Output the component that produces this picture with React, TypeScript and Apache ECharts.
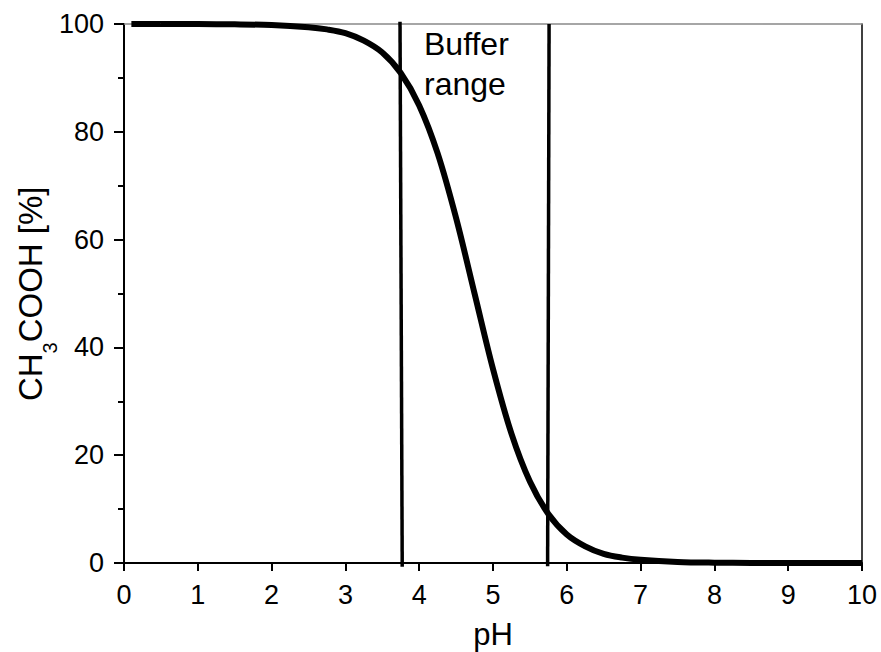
import React, { useEffect, useRef } from 'react';
import * as echarts from 'echarts';

// pH values and CH3COOH fraction (%)
const phValues = [0.1, 0.5, 1, 1.5, 2, 2.5, 2.75, 3, 3.25, 3.5, 3.75, 4, 4.25, 4.5, 4.75, 5, 5.25, 5.5, 5.75, 6, 6.25, 6.5, 6.75, 7, 7.5, 8, 8.5, 9, 10];
const acidPercent = [100, 99.99, 99.98, 99.94, 99.8, 99.4, 99.0, 98.3, 96.9, 94.7, 90.9, 84.9, 76.0, 64.0, 50.0, 36.0, 24.0, 15.1, 9.1, 5.3, 3.1, 1.7, 1.0, 0.6, 0.2, 0.06, 0.02, 0.01, 0];

// Buffer range boundary lines (pH, %)
const bufferLeft = [[3.74, 100.4], [3.77, -0.7]];
const bufferRight = [[5.76, 100], [5.74, -0.6]];

const xTicks = { min: 0, max: 10, interval: 1 };
const yTicks = { min: 0, max: 100, interval: 20 };

const annotation = 'Buffer\nrange';
const xName = 'pH';
const yName = '{a|CH}{b|3}{a|COOH [%]}{s| }';

const FONT = '"Liberation Sans", Arial, Helvetica, sans-serif';

export default function App() {
  const ref = useRef<HTMLDivElement>(null);
  useEffect(() => {
    document.body.style.margin = '0';
    const chart = echarts.init(ref.current!, null, { renderer: 'svg' });
    const curve = phValues.map((p, i) => [p, acidPercent[i]]);
    chart.setOption({
      animation: false,
      backgroundColor: '#fff',
      textStyle: { fontFamily: FONT, color: '#000' },
      grid: { left: 124, top: 24, right: 19, bottom: 89, containLabel: false, outerBoundsMode: 'none' },
      xAxis: [
        {
          type: 'value', ...xTicks, position: 'bottom',
          axisLine: { onZero: false, lineStyle: { color: '#000', width: 2 } },
          axisTick: { inside: false, length: 8, lineStyle: { color: '#000', width: 2 } },
          axisLabel: { color: '#000', fontSize: 27, fontFamily: FONT, margin: 18 },
          splitLine: { show: false },
          name: xName, nameLocation: 'middle', nameGap: 56, nameMoveOverlap: false,
          nameTextStyle: { color: '#000', fontSize: 31, fontFamily: FONT },
        },
        {
          type: 'value', ...xTicks, position: 'top',
          axisLine: { onZero: false, lineStyle: { color: '#888', width: 1.5 } },
          axisTick: { show: false }, axisLabel: { show: false }, splitLine: { show: false },
        },
      ],
      yAxis: [
        {
          type: 'value', ...yTicks, position: 'left',
          axisLine: { onZero: false, lineStyle: { color: '#000', width: 2 } },
          axisTick: { inside: false, length: 10, lineStyle: { color: '#000', width: 2 } },
          minorTick: { show: true, splitNumber: 2, length: 6, lineStyle: { color: '#000', width: 2 } },
          axisLabel: { color: '#000', fontSize: 27, fontFamily: FONT, margin: 20 },
          splitLine: { show: false }, minorSplitLine: { show: false },
          name: yName, nameLocation: 'middle', nameGap: 64, nameRotate: 90, nameMoveOverlap: false,
          nameTextStyle: {
            color: '#000', fontFamily: FONT,
            rich: {
              a: { fontSize: 33, lineHeight: 33, verticalAlign: 'top', fontFamily: FONT, color: '#000' },
              b: { fontSize: 20, lineHeight: 20, verticalAlign: 'bottom', fontFamily: FONT, color: '#000' },
              s: { fontSize: 2, lineHeight: 46, verticalAlign: 'bottom', fontFamily: FONT, color: '#000' },
            },
          },
        },
        {
          type: 'value', ...yTicks, position: 'right',
          axisLine: { onZero: false, lineStyle: { color: '#000', width: 1.5 } },
          axisTick: { show: false }, axisLabel: { show: false }, splitLine: { show: false },
        },
      ],
      graphic: [
        {
          type: 'text', left: 424, top: 24, z: 10,
          style: { text: annotation, fontSize: 32, lineHeight: 40, fontFamily: FONT, fill: '#000' },
        },
      ],
      series: [
        {
          type: 'line', data: curve, showSymbol: false, smooth: 0.35, clip: false,
          lineStyle: { color: '#000', width: 6 }, z: 3,
        },
        {
          type: 'line', data: bufferLeft, showSymbol: false, clip: false,
          lineStyle: { color: '#000', width: 3.5 }, z: 4,
        },
        {
          type: 'line', data: bufferRight, showSymbol: false, clip: false,
          lineStyle: { color: '#000', width: 3.5 }, z: 4,
        },
      ],
    });
    return () => chart.dispose();
  }, []);
  return <div ref={ref} style={{ width: 881, height: 652 }} />;
}
